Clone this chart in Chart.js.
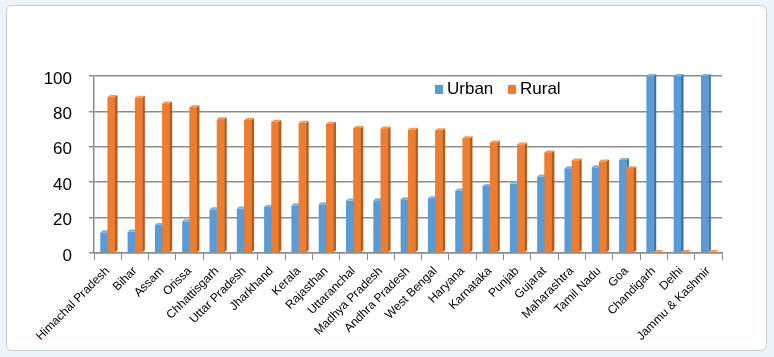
<!DOCTYPE html>
<html>
<head>
<meta charset="utf-8">
<script src="https://cdn.jsdelivr.net/npm/chart.js@4"></script>
<style>
  html, body { margin: 0; padding: 0; background: #ffffff; }
  #wrap { position: absolute; left: 0; top: 0; width: 774px; height: 357px; }
</style>
</head>
<body>
<div id="wrap"><canvas id="c" width="774" height="357"></canvas></div>
<script>
const categories = ["Himachal Pradesh","Bihar","Assam","Orissa","Chhattisgarh","Uttar Pradesh","Jharkhand","Kerala","Rajasthan","Uttaranchal","Madhya Pradesh","Andhra Pradesh","West Bengal","Haryana","Karnataka","Punjab","Gujarat","Maharashtra","Tamil Nadu","Goa","Chandigarh","Delhi","Jammu & Kashmir"];
const urban = [11.7,12.1,15.8,17.9,24.7,25.1,26.2,27.0,27.5,29.6,29.8,30.4,31.0,35.3,37.9,39.2,43.2,47.9,48.5,52.6,100,100,100];
const rural = [88.1,87.7,84.5,82.3,75.5,75.1,74.2,73.6,73.0,70.6,70.4,69.6,69.4,64.9,62.5,61.3,56.8,52.3,51.7,47.9,0.6,0.6,0.6];
const seriesNames = ["Urban","Rural"];
const yTicks = [0,20,40,60,80,100];

const FRONT = ["#5b9bd5","#ed7d31"];
const SIDE  = ["#3f74a8","#b35b1d"];
const TOP   = ["#7fb2e0","#f29a5c"];

const framePlugin = {
  id: 'frame',
  beforeDraw(chart) {
    const ctx = chart.ctx;
    ctx.save();
    ctx.fillStyle = '#eef3f7';
    ctx.fillRect(0, 0, chart.width, chart.height);
    ctx.fillStyle = '#ffffff';
    ctx.strokeStyle = '#c3ccd4';
    ctx.lineWidth = 1;
    const x = 6.5, y = 5.5, w = 760, h = 345, r = 6;
    ctx.beginPath();
    ctx.moveTo(x + r, y);
    ctx.lineTo(x + w - r, y); ctx.quadraticCurveTo(x + w, y, x + w, y + r);
    ctx.lineTo(x + w, y + h - r); ctx.quadraticCurveTo(x + w, y + h, x + w - r, y + h);
    ctx.lineTo(x + r, y + h); ctx.quadraticCurveTo(x, y + h, x, y + h - r);
    ctx.lineTo(x, y + r); ctx.quadraticCurveTo(x, y, x + r, y);
    ctx.closePath();
    ctx.fill(); ctx.stroke();
    ctx.restore();
  }
};

const bar3dPlugin = {
  id: 'bar3d',
  afterDatasetsDraw(chart) {
    const ctx = chart.ctx;
    const d = 2.5, up = 2;
    const m0 = chart.getDatasetMeta(0), m1 = chart.getDatasetMeta(1);
    ctx.save();
    for (let i = 0; i < categories.length; i++) {
      [m0, m1].forEach((meta, k) => {
        const el = meta.data[i];
        if (!el) return;
        const p = el.getProps(['x','y','base','width'], true);
        const l = p.x - p.width / 2, r = p.x + p.width / 2;
        const top = Math.min(p.y, p.base), bot = Math.max(p.y, p.base);
        if (k === 1) {
          ctx.fillStyle = FRONT[k];
          ctx.fillRect(l, top, p.width, bot - top);
        }
        ctx.fillStyle = SIDE[k];
        ctx.beginPath();
        ctx.moveTo(r, top); ctx.lineTo(r + d, top - up);
        ctx.lineTo(r + d, bot - up); ctx.lineTo(r, bot);
        ctx.closePath(); ctx.fill();
        ctx.fillStyle = TOP[k];
        ctx.beginPath();
        ctx.moveTo(l, top); ctx.lineTo(l + d, top - up);
        ctx.lineTo(r + d, top - up); ctx.lineTo(r, top);
        ctx.closePath(); ctx.fill();
      });
    }
    ctx.restore();
  }
};

const legendPlugin = {
  id: 'customLegend',
  afterDraw(chart) {
    const ctx = chart.ctx;
    ctx.save();
    ctx.font = '17px "Liberation Sans", Arial, sans-serif';
    ctx.textBaseline = 'alphabetic';
    ctx.fillStyle = FRONT[0];
    ctx.fillRect(435, 85, 8, 9);
    ctx.fillStyle = '#000000';
    ctx.fillText(seriesNames[0], 447, 94);
    ctx.fillStyle = FRONT[1];
    ctx.fillRect(508, 85, 8, 9);
    ctx.fillStyle = '#000000';
    ctx.fillText(seriesNames[1], 520, 94);
    ctx.restore();
  }
};

new Chart(document.getElementById('c'), {
  type: 'bar',
  data: {
    labels: categories,
    datasets: [
      { label: seriesNames[0], data: urban, backgroundColor: FRONT[0], categoryPercentage: 0.54, barPercentage: 1.0 },
      { label: seriesNames[1], data: rural, backgroundColor: FRONT[1], categoryPercentage: 0.54, barPercentage: 1.0 }
    ]
  },
  options: {
    responsive: false,
    animation: false,
    layout: { padding: { left: 0, right: 52, top: 76, bottom: 0 } },
    plugins: { legend: { display: false }, tooltip: { enabled: false } },
    scales: {
      x: {
        afterFit(s) { s.height = 104; },
        grid: { display: true, drawOnChartArea: false, offset: true, color: '#8c8c8c', tickLength: 7, lineWidth: 1 },
        border: { display: true, color: '#8c8c8c', width: 1.5 },
        ticks: {
          autoSkip: false, minRotation: 45, maxRotation: 45, padding: 4,
          color: '#000000',
          font: { family: '"Liberation Sans", Arial, sans-serif', size: 12 }
        }
      },
      y: {
        min: 0, max: 100,
        afterFit(s) { s.width = 94; },
        afterBuildTicks(s) { s.ticks = yTicks.map(v => ({ value: v })); },
        grid: { color: '#8c8c8c', lineWidth: 1.5, tickLength: 5 },
        border: { display: true, color: '#8c8c8c', width: 1.5 },
        ticks: {
          padding: 17, color: '#000000', labelOffset: 3,
          font: { family: '"Liberation Sans", Arial, sans-serif', size: 17 }
        }
      }
    }
  },
  plugins: [framePlugin, bar3dPlugin, legendPlugin]
});
</script>
</body>
</html>
